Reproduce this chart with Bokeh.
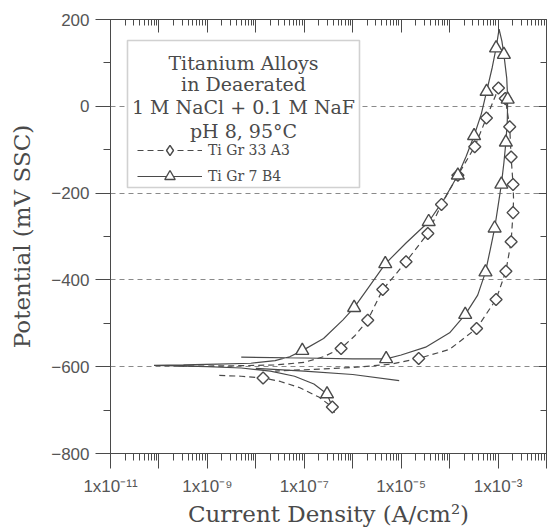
import math
from bokeh.plotting import figure
from bokeh.models import (LogAxis, LinearAxis, FixedTicker, Legend, LegendItem,
                          Label, BoxAnnotation)
from bokeh.embed import file_html
from bokeh.resources import INLINE

nan = float("nan")

# ---------------- axes / ticks ----------------
x_decades = [1e-11, 1e-10, 1e-9, 1e-8, 1e-7, 1e-6, 1e-5, 1e-4, 1e-3, 1e-2]
x_tick_labels = {1e-11: "1x10\u207b\u00b9\u00b9", 1e-9: "1x10\u207b\u2079",
                 1e-7: "1x10\u207b\u2077", 1e-5: "1x10\u207b\u2075",
                 1e-3: "1x10\u207b\u00b3"}
y_ticks = [-800, -600, -400, -200, 0, 200]
y_minor = [-700, -500, -300, -100, 100]

# ---------------- Ti Gr 7 B4 (solid, triangles) ----------------
b4_curve_j = [3.55e-7, 2.95e-7, 1.58e-7, 6.3e-8, 2.0e-8, 5.0e-9, 1.0e-9, 2.5e-10, 7.9e-11,
              3.2e-10, 1.6e-9, 7.9e-9, 2.5e-8, 5.0e-8, 9.1e-8, 2.5e-7, 6.3e-7, 1.07e-6,
              2.2e-6, 4.7e-6, 1.26e-5, 3.7e-5, 7.9e-5, 1.48e-4, 2.2e-4, 3.2e-4, 4.5e-4,
              5.8e-4, 7.6e-4, 9.1e-4, 1.05e-3, 1.2e-3, 1.32e-3, 1.51e-3, 1.58e-3, 1.55e-3,
              1.45e-3, 1.32e-3, 1.17e-3, 1.0e-3, 8.5e-4, 6.9e-4, 5.5e-4, 3.8e-4, 2.1e-4,
              1.0e-4, 3.2e-5, 1.0e-5, 4.9e-6, 1.0e-6, 1.0e-7, 5.0e-9,
              nan, 9.1e-6, 1.0e-6, 1.0e-7, 1.0e-8]
b4_curve_e = [-685, -663, -640, -622, -610, -603, -600, -598, -597,
              -596, -594, -592, -586, -577, -563, -535, -492, -464,
              -415, -363, -315, -266, -212, -159, -115, -68, -18,
              34, 90, 134, 178, 150, 119, 65, 16, -35,
              -83, -130, -180, -230, -281, -330, -382, -435, -480,
              -522, -555, -573, -582, -582, -580, -578,
              nan, -632, -618, -610, -604]
b4_marker_j = [2.95e-7, 9.1e-8, 1.07e-6, 4.7e-6, 3.7e-5, 1.48e-4, 3.2e-4, 5.8e-4, 9.1e-4,
               1.32e-3, 1.58e-3, 1.45e-3, 1.17e-3, 8.5e-4, 5.5e-4, 2.1e-4, 4.9e-6]
b4_marker_e = [-663, -563, -464, -363, -266, -159, -68, 34, 134,
               119, 16, -83, -180, -281, -382, -480, -582]

# ---------------- Ti Gr 33 A3 (dashed, diamonds) ----------------
a3_curve_j = [4.2e-7, 3.8e-7, 2.0e-7, 7.9e-8, 3.2e-8, 1.41e-8, 5.0e-9, 1.74e-9,
              nan,
              2.5e-10, 3.2e-9, 2.5e-8, 1.0e-7, 2.5e-7, 5.75e-7, 1.12e-6, 2.04e-6, 4.17e-6,
              7.1e-6, 1.26e-5, 3.55e-5, 6.8e-5, 1.48e-4, 3.3e-4, 5.75e-4, 8.9e-4, 1.1e-3,
              1.26e-3, 1.41e-3, 1.74e-3, 1.86e-3, 2.04e-3, 2.09e-3, 2.04e-3, 1.86e-3,
              1.45e-3, 9.1e-4, 3.6e-4, 1.0e-4, 2.3e-5, 6.3e-6, 1.0e-6, 1.0e-7, 2.5e-8]
a3_curve_e = [-706, -693, -670, -648, -634, -626, -622, -620,
              nan,
              -599, -598, -596, -590, -577, -558, -528, -493, -422,
              -392, -358, -293, -226, -159, -93, -27, 25, 55,
              40, 18, -47, -117, -180, -215, -245, -312,
              -380, -445, -512, -560, -581, -594, -602, -607, -610]
a3_marker_j = [1.41e-8, 3.8e-7, 5.75e-7, 2.04e-6, 4.17e-6, 1.26e-5, 3.55e-5, 6.8e-5,
               1.48e-4, 3.3e-4, 5.75e-4, 1.02e-3, 1.41e-3, 1.74e-3, 1.86e-3, 2.04e-3,
               2.04e-3, 1.86e-3, 1.45e-3, 9.1e-4, 3.6e-4, 2.3e-5]
a3_marker_e = [-626, -693, -558, -493, -422, -358, -293, -226,
               -159, -93, -27, 42, 18, -47, -117, -180,
               -245, -312, -380, -445, -512, -581]

legend_title = ["Titanium Alloys", "in Deaerated", "1 M NaCl + 0.1 M NaF", "pH 8, 95\u00b0C"]
series_names = ["Ti Gr 33 A3", "Ti Gr 7 B4"]

INK = "#4a4a4a"
SERIF = "DejaVu Serif"
SANS = "Liberation Sans"

p = figure(width=552, height=530, x_axis_type="log", x_range=(1e-11, 1e-2),
           y_range=(-800, 200), output_backend="svg", toolbar_location=None,
           min_border_left=110, min_border_top=19, min_border_right=6,
           min_border_bottom=77, background_fill_color="white",
           border_fill_color="white")
p.outline_line_color = INK

x_minor = [k * d for d in x_decades[:-1] for k in range(2, 10)]

# bottom axis
xa = p.xaxis[0]
xa.ticker = FixedTicker(ticks=x_decades, minor_ticks=x_minor)
xa.major_label_overrides = {d: x_tick_labels.get(d, "") for d in x_decades}
xa.major_tick_out = 15
xa.major_tick_in = 0
xa.minor_tick_out = 7
xa.minor_tick_in = 0
xa.major_label_standoff = 8
xa.axis_label = "Current Density (A/cm\u00b2)"
xa.axis_label_standoff = 2

# left axis
ya = p.yaxis[0]
ya.ticker = FixedTicker(ticks=y_ticks, minor_ticks=y_minor)
ya.major_tick_out = 15
ya.major_tick_in = 0
ya.minor_tick_out = 7
ya.minor_tick_in = 0
ya.major_label_standoff = 6
ya.axis_label = "Potential (mV SSC)"
ya.axis_label_standoff = 13

for ax in (xa, ya):
    ax.axis_line_color = INK
    ax.major_tick_line_color = INK
    ax.minor_tick_line_color = INK
    ax.major_label_text_font = SANS
    ax.major_label_text_font_size = "17px"
    ax.major_label_text_color = "#555555"
    ax.axis_label_text_font = SERIF
    ax.axis_label_text_font_size = "23px"
    ax.axis_label_text_font_style = "normal"
    ax.axis_label_text_color = INK

# top axis (ticks pointing down into plot)
top = LogAxis(ticker=FixedTicker(ticks=x_decades, minor_ticks=x_minor),
              major_label_overrides={d: "" for d in x_decades},
              major_tick_in=13, major_tick_out=0, minor_tick_in=6, minor_tick_out=0,
              major_label_standoff=0, axis_line_color=INK,
              major_tick_line_color=INK, minor_tick_line_color=INK)
p.add_layout(top, "above")

# right axis (ticks pointing left into plot)
right = LinearAxis(ticker=FixedTicker(ticks=y_ticks, minor_ticks=y_minor),
                   major_label_overrides={t: "" for t in y_ticks},
                   major_tick_in=8, major_tick_out=0, minor_tick_in=6, minor_tick_out=0,
                   major_label_standoff=0, axis_line_color=INK,
                   major_tick_line_color=INK, minor_tick_line_color=INK)
p.add_layout(right, "right")

p.xgrid.visible = False
p.ygrid.ticker = FixedTicker(ticks=y_ticks)
p.ygrid.grid_line_color = "#8a8a8a"
p.ygrid.grid_line_dash = "5 4"
p.ygrid.grid_line_width = 1

# curves
a3_line = p.line(a3_curve_j, a3_curve_e, line_color=INK, line_width=1.2, line_dash="6 4")
b4_line = p.line(b4_curve_j, b4_curve_e, line_color=INK, line_width=1.2)
a3_pts = p.scatter(a3_marker_j, a3_marker_e, marker="square", angle=math.pi / 4, size=8.5,
                   fill_color="white", line_color=INK, line_width=1.4)
b4_pts = p.scatter(b4_marker_j, b4_marker_e, marker="triangle", size=13,
                   fill_color="white", line_color=INK, line_width=1.4)
# legend-only key glyph (not plotted: NaN position); legend draws markers unrotated
a3_key = p.scatter(x=[nan], y=[nan], marker="diamond", size=10,
                   fill_color="white", line_color=INK, line_width=1.4)

# legend box
box = BoxAnnotation(left=17, right=249, top=413, bottom=266,
                    left_units="screen", right_units="screen",
                    top_units="screen", bottom_units="screen",
                    fill_color="white", fill_alpha=1.0,
                    line_color="#666666", line_width=1.6)
p.add_layout(box)

for i, line in enumerate(legend_title):
    p.add_layout(Label(x=133, y=391 - [0, 21, 44, 68][i], x_units="screen", y_units="screen",
                       text=line, text_align="center", text_baseline="middle",
                       text_font=SERIF, text_font_size="19px", text_color=INK))

legend = Legend(items=[LegendItem(label=series_names[0], renderers=[a3_line, a3_key]),
                       LegendItem(label=series_names[1], renderers=[b4_line, b4_pts])],
                location=(27, 264), padding=0, spacing=0, margin=0,
                label_height=24, glyph_height=26, glyph_width=65, label_standoff=6,
                border_line_alpha=0, background_fill_alpha=0,
                label_text_font=SERIF, label_text_font_size="14px",
                label_text_color=INK)
p.add_layout(legend)

open("out.html", "w").write(file_html(p, INLINE))
